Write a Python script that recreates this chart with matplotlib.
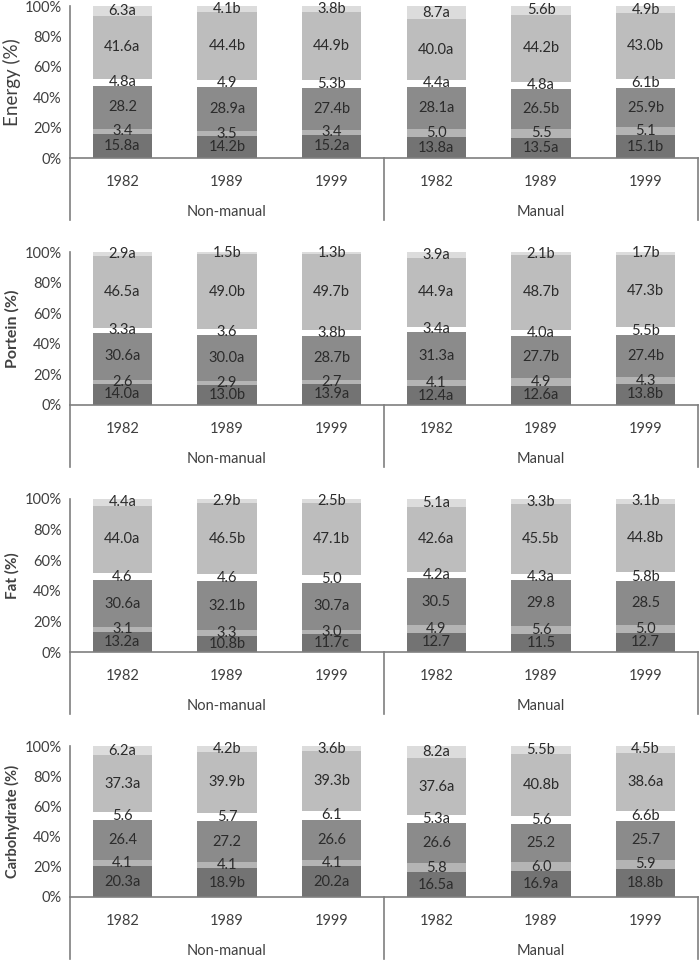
import matplotlib
matplotlib.use('Agg')
import matplotlib.pyplot as plt

plt.rcParams['font.family'] = ['Lato', 'DejaVu Sans']

# categories
years = ['1982', '1989', '1999', '1982', '1989', '1999']
groups = ['Non-manual', 'Manual']

# each nutrient: 6 segments (bottom to top) x 6 bars
energy_vals = [[15.8, 14.2, 15.2, 13.8, 13.5, 15.1],
               [3.4, 3.5, 3.4, 5.0, 5.5, 5.1],
               [28.2, 28.9, 27.4, 28.1, 26.5, 25.9],
               [4.8, 4.9, 5.3, 4.4, 4.8, 6.1],
               [41.6, 44.4, 44.9, 40.0, 44.2, 43.0],
               [6.3, 4.1, 3.8, 8.7, 5.6, 4.9]]
energy_sig = [['a', 'b', 'a', 'a', 'a', 'b'],
              ['', '', '', '', '', ''],
              ['', 'a', 'b', 'a', 'b', 'b'],
              ['a', '', 'b', 'a', 'a', 'b'],
              ['a', 'b', 'b', 'a', 'b', 'b'],
              ['a', 'b', 'b', 'a', 'b', 'b']]

protein_vals = [[14.0, 13.0, 13.9, 12.4, 12.6, 13.8],
                [2.6, 2.9, 2.7, 4.1, 4.9, 4.3],
                [30.6, 30.0, 28.7, 31.3, 27.7, 27.4],
                [3.3, 3.6, 3.8, 3.4, 4.0, 5.5],
                [46.5, 49.0, 49.7, 44.9, 48.7, 47.3],
                [2.9, 1.5, 1.3, 3.9, 2.1, 1.7]]
protein_sig = [['a', 'b', 'a', 'a', 'a', 'b'],
               ['', '', '', '', '', ''],
               ['a', 'a', 'b', 'a', 'b', 'b'],
               ['a', '', 'b', 'a', 'a', 'b'],
               ['a', 'b', 'b', 'a', 'b', 'b'],
               ['a', 'b', 'b', 'a', 'b', 'b']]

fat_vals = [[13.2, 10.8, 11.7, 12.7, 11.5, 12.7],
            [3.1, 3.3, 3.0, 4.9, 5.6, 5.0],
            [30.6, 32.1, 30.7, 30.5, 29.8, 28.5],
            [4.6, 4.6, 5.0, 4.2, 4.3, 5.8],
            [44.0, 46.5, 47.1, 42.6, 45.5, 44.8],
            [4.4, 2.9, 2.5, 5.1, 3.3, 3.1]]
fat_sig = [['a', 'b', 'c', '', '', ''],
           ['', '', '', '', '', ''],
           ['a', 'b', 'a', '', '', ''],
           ['', '', '', 'a', 'a', 'b'],
           ['a', 'b', 'b', 'a', 'b', 'b'],
           ['a', 'b', 'b', 'a', 'b', 'b']]

carb_vals = [[20.3, 18.9, 20.2, 16.5, 16.9, 18.8],
             [4.1, 4.1, 4.1, 5.8, 6.0, 5.9],
             [26.4, 27.2, 26.6, 26.6, 25.2, 25.7],
             [5.6, 5.7, 6.1, 5.3, 5.6, 6.6],
             [37.3, 39.9, 39.3, 37.6, 40.8, 38.6],
             [6.2, 4.2, 3.6, 8.2, 5.5, 4.5]]
carb_sig = [['a', 'b', 'a', 'a', 'a', 'b'],
            ['', '', '', '', '', ''],
            ['', '', '', '', '', ''],
            ['', '', '', 'a', '', 'b'],
            ['a', 'b', 'b', 'a', 'b', 'a'],
            ['a', 'b', 'b', 'a', 'b', 'b']]

# (label, weight, label size, values, letters)
panels = [('Energy (%)', 'normal', 13.5, energy_vals, energy_sig),
          ('Portein (%)', 'bold', 11.5, protein_vals, protein_sig),
          ('Fat (%)', 'bold', 11, fat_vals, fat_sig),
          ('Carbohydrate (%)', 'bold', 10.5, carb_vals, carb_sig)]

seg_colors = ['#737373', '#b4b4b4', '#8b8b8b', '#ffffff', '#bdbdbd', '#dcdcdc']
text_col = '#2b2b2b'
line_col = '#7f7f7f'

W, H = 700, 961
fig = plt.figure(figsize=(W / 100, H / 100), dpi=100)

# pixel positions (top of 100%, bottom at 0%) for each panel
tops = [6, 252, 499, 746]
bottoms = [158, 405, 652, 897]
left_px, right_px = 70, 698
drop = 62  # how far the category lines run below the axis (px)

x = list(range(len(years)))
for (ylabel, weight, lsize, vals, sig), top, bot in zip(panels, tops, bottoms):
    ax = fig.add_axes([left_px / W, 1 - bot / H, (right_px - left_px) / W, (bot - top) / H])
    totals = [sum(v[i] for v in vals) for i in x]
    base = [0.0] * len(x)
    for k, seg in enumerate(vals):
        h = [seg[i] / totals[i] * 100 for i in x]
        ax.bar(x, h, bottom=base, width=0.57, color=seg_colors[k], edgecolor='none')
        for i in x:
            ax.text(x[i], base[i] + h[i] / 2, f'{seg[i]:.1f}{sig[k][i]}',
                    ha='center', va='center', fontsize=10.5, color=text_col)
        base = [b + hh for b, hh in zip(base, h)]

    ax.set_xlim(-0.5, 5.5)
    ax.set_ylim(0, 100)
    ax.set_yticks([0, 20, 40, 60, 80, 100])
    ax.set_yticklabels([f'{t}%' for t in range(0, 101, 20)], fontsize=10.5, color='#404040')
    ax.set_xticks(x)
    ax.set_xticklabels(years, fontsize=10.5, color='#404040')
    ax.tick_params(length=0, pad=12)
    ax.tick_params(axis='y', pad=6)
    for s in ['top', 'right']:
        ax.spines[s].set_visible(False)
    ax.spines['bottom'].set_color(line_col)
    ax.spines['left'].set_color(line_col)
    ax.spines['bottom'].set_linewidth(1.2)
    ax.spines['left'].set_linewidth(1.2)

    # category separators running under the axis
    d = drop / (bot - top)
    for xs in [-0.5, 2.5, 5.5]:
        ax.plot([xs, xs], [0, -d * 100], color=line_col, lw=1.2, clip_on=False)
    ax.text(1, -d * 100 * 0.87, groups[0], ha='center', va='center', fontsize=10.5, color='#404040')
    ax.text(4, -d * 100 * 0.87, groups[1], ha='center', va='center', fontsize=10.5, color='#404040')

    fig.text(12 / W, 1 - (top + bot) / 2 / H, ylabel, rotation=90, ha='center', va='center',
             fontsize=lsize, fontweight=weight, color='#404040')

fig.savefig('out.png', dpi=100)
